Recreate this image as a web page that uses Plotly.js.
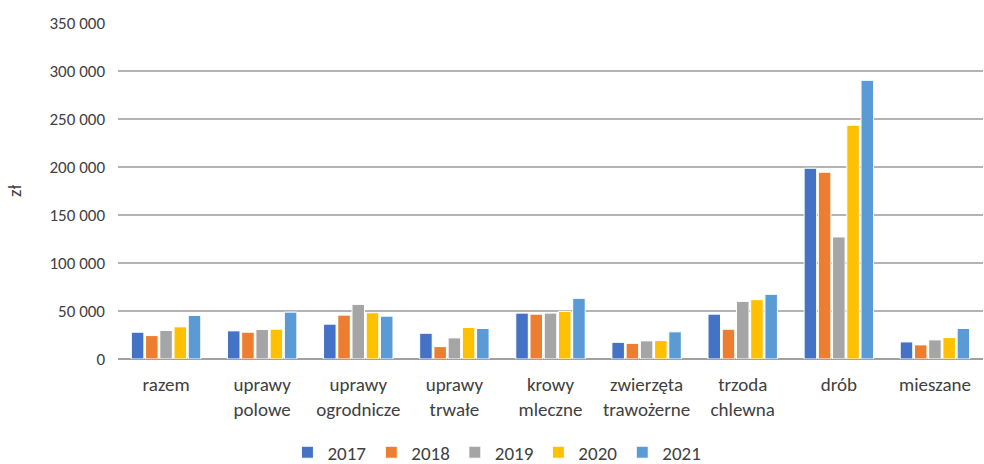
<!DOCTYPE html>
<html>
<head>
<meta charset="utf-8">
<script src="https://cdn.plot.ly/plotly-3.0.1.min.js"></script>
<style>html,body{margin:0;padding:0;background:#fff;}#chart{width:984px;height:464px;}</style>
</head>
<body>
<div id="chart"></div>
<script>
const categories = ["razem", "uprawy<br>polowe", "uprawy<br>ogrodnicze", "uprawy<br>trwałe", "krowy<br>mleczne", "zwierzęta<br>trawożerne", "trzoda<br>chlewna", "drób", "mieszane"];
const years = ["2017", "2018", "2019", "2020", "2021"];
const v2017 = [27900, 29300, 36300, 26800, 47800, 17400, 46700, 198700, 17800];
const v2018 = [24400, 27900, 45700, 12900, 46700, 16300, 31000, 194500, 14700];
const v2019 = [29700, 30700, 56900, 22000, 47800, 18900, 60000, 127100, 19900];
const v2020 = [33500, 31000, 48200, 32800, 49600, 19200, 61800, 243500, 22300];
const v2021 = [45400, 48800, 44600, 31800, 63200, 28300, 67400, 290300, 31800];
const seriesValues = [v2017, v2018, v2019, v2020, v2021];
const colors = ["#4472C4", "#ED7D31", "#A5A5A5", "#FFC000", "#5B9BD5"];
const yTicks = [0, 50000, 100000, 150000, 200000, 250000, 300000, 350000];
const yTickText = ["0", "50 000", "100 000", "150 000", "200 000", "250 000", "300 000", "350 000"];

const fam = "Carlito, Lato, 'Liberation Sans', sans-serif";
const col = "#404040";

const traces = years.map((y, i) => ({
  type: "bar",
  name: y,
  x: categories,
  y: seriesValues[i],
  marker: {color: colors[i], line: {color: "#ffffff", width: 1}},
  hoverinfo: "skip"
}));

const layout = {
  width: 984, height: 464,
  margin: {l: 118, r: 1, t: 23, b: 105},
  paper_bgcolor: "#fff", plot_bgcolor: "#fff",
  font: {family: fam, size: 18, color: col},
  barmode: "group",
  bargap: 0.26,
  bargroupgap: 0.12,
  showlegend: true,
  legend: {orientation: "h", x: 0.505, xanchor: "center", xref: "container", yref: "container", y: 0.066, yanchor: "top", font: {family: fam, size: 19, color: col}, traceorder: "normal", itemwidth: 30, tracegroupgap: 0},
  xaxis: {type: "category", showgrid: false, zeroline: false, showline: false, ticks: "", tickfont: {family: fam, size: 19, color: col}, ticklabelstandoff: 12, automargin: false},
  yaxis: {range: [0, 350000], tickvals: yTicks, ticktext: yTickText, showgrid: true, gridcolor: "#b3b3b3", gridwidth: 1.5, zeroline: true, zerolinecolor: "#a0a0a0", zerolinewidth: 2, showline: false, tickfont: {family: fam, size: 17, color: col}, ticklabelstandoff: 12,
    title: {text: "zł", font: {family: fam, size: 19, color: col}, standoff: 22}, automargin: false}
};

Plotly.newPlot("chart", traces, layout, {displayModeBar: false, staticPlot: true});
</script>
</body>
</html>
